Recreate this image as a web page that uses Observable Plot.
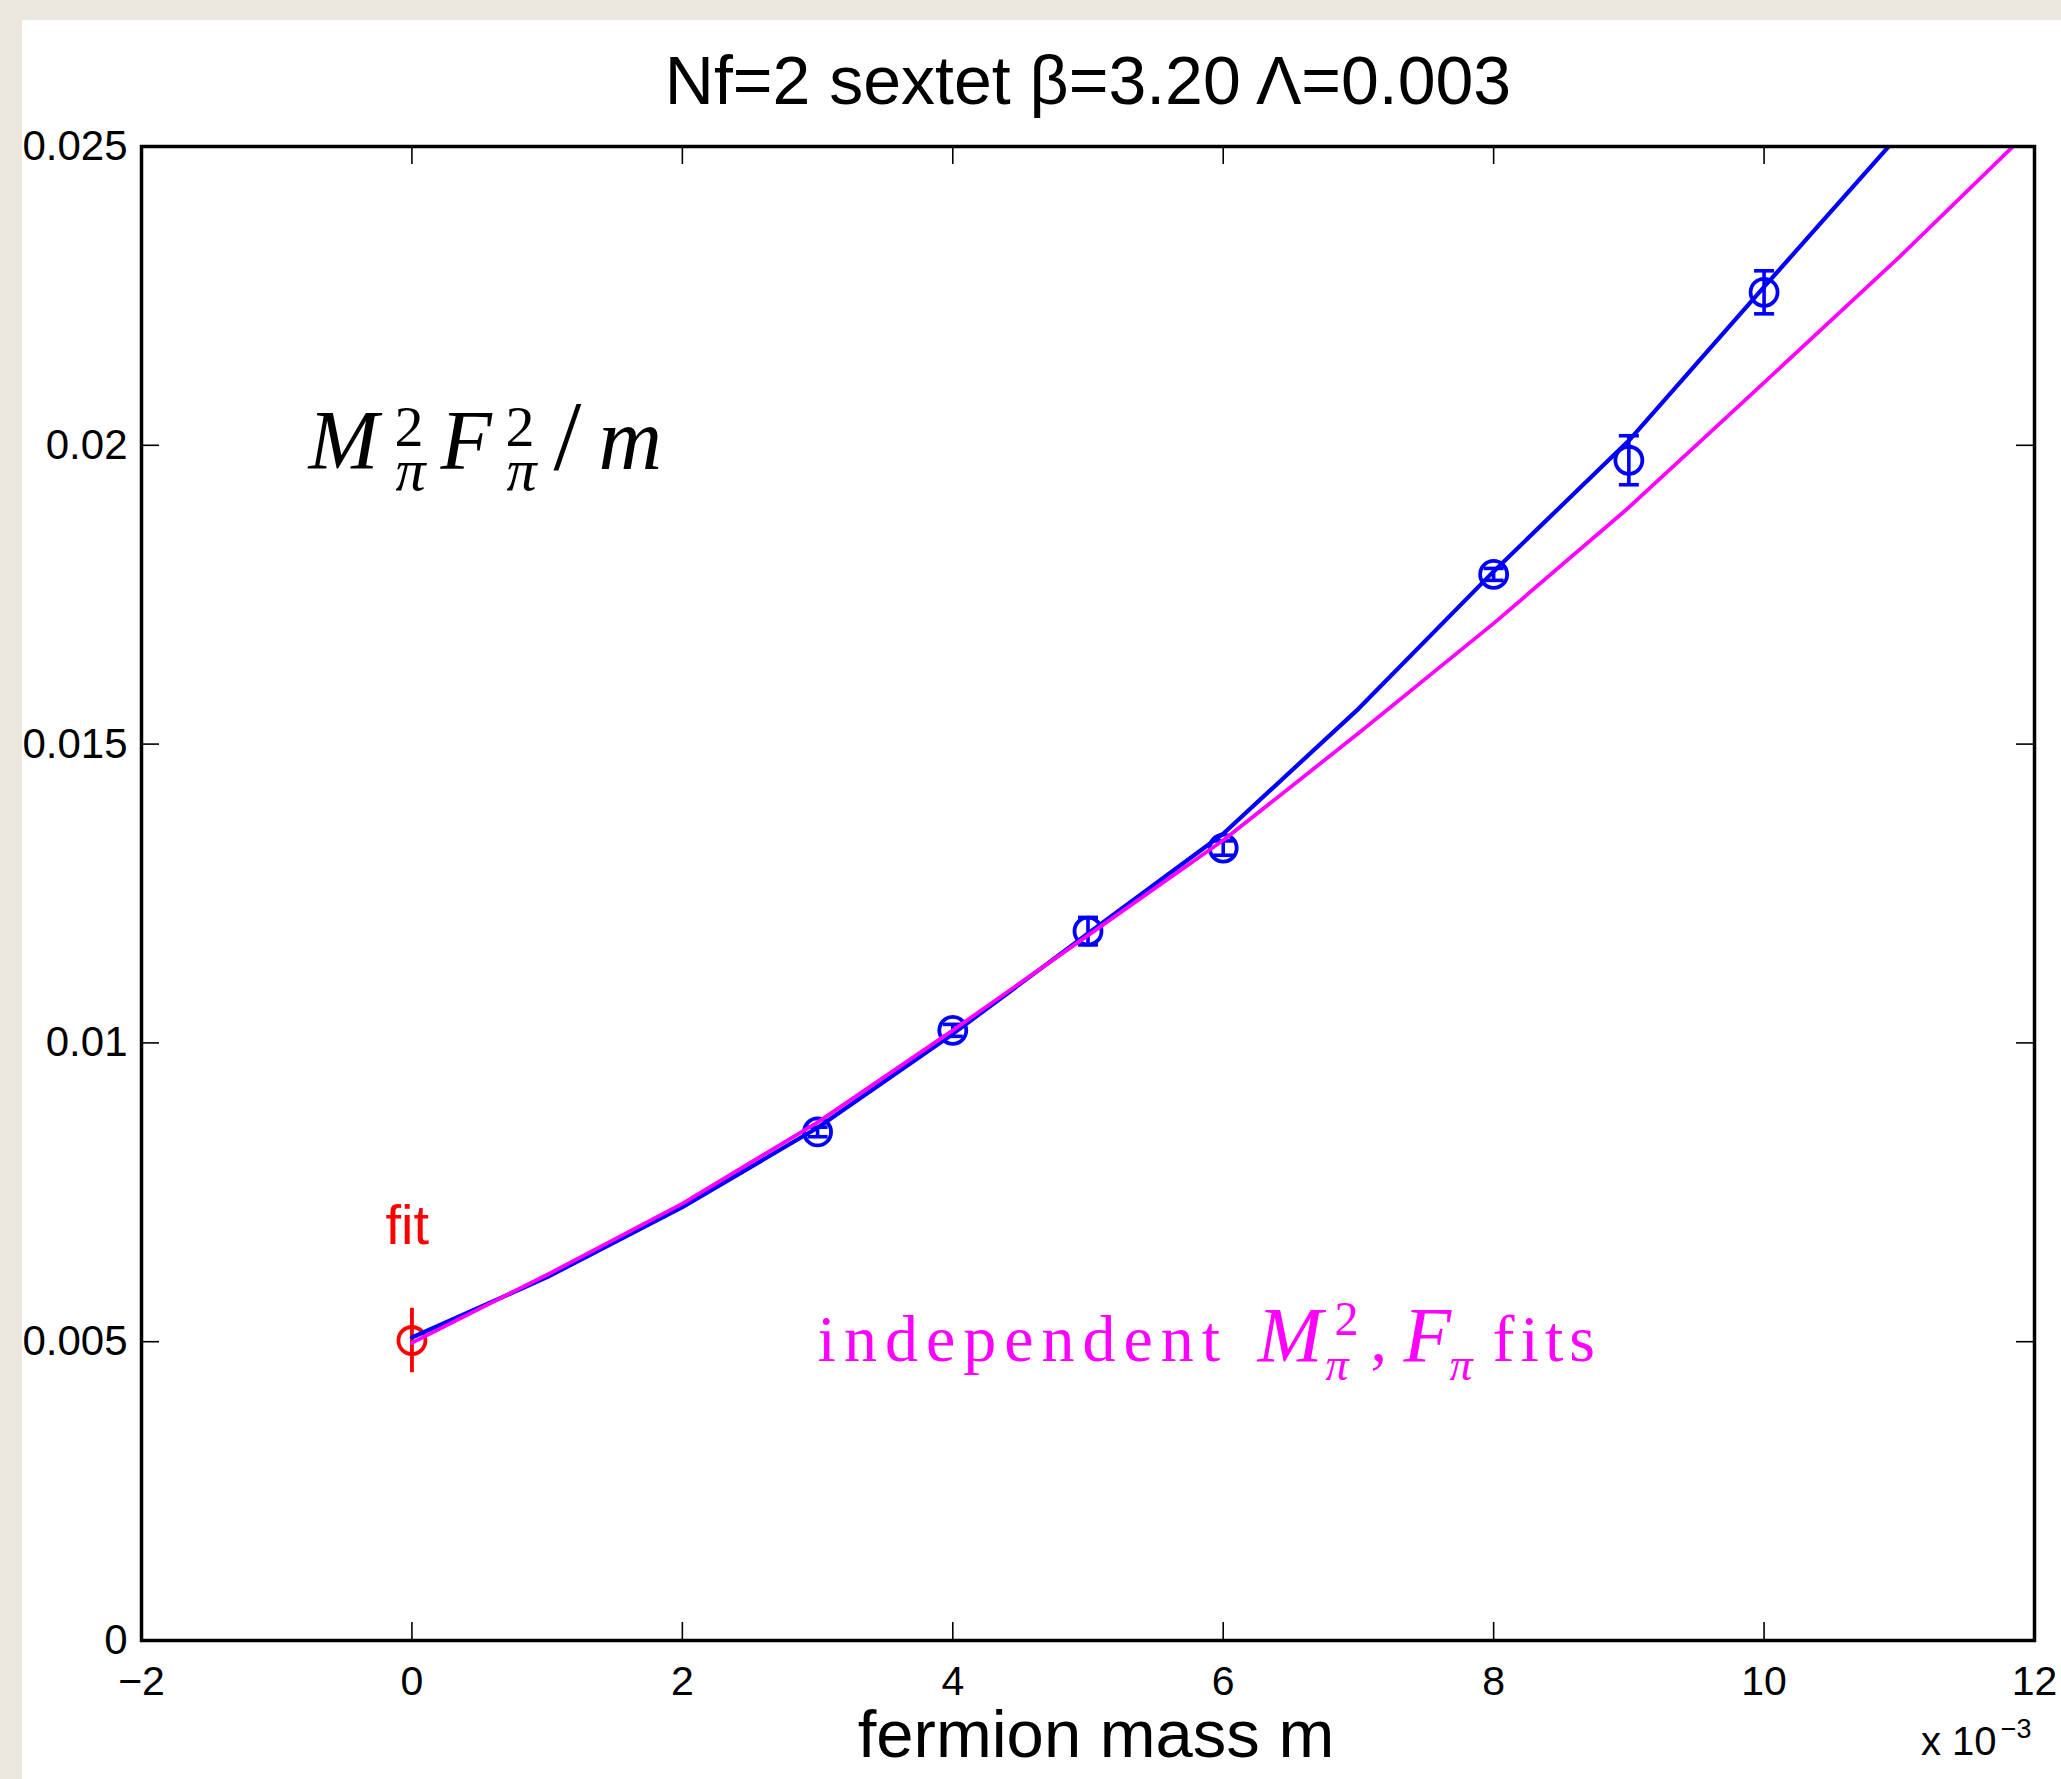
<!DOCTYPE html>
<html>
<head>
<meta charset="utf-8">
<script src="https://cdn.jsdelivr.net/npm/d3@7"></script>
<script src="https://cdn.jsdelivr.net/npm/@observablehq/plot@0.6"></script>
<style>
  html, body { margin: 0; padding: 0; background: #ebe7df; overflow: hidden; width: 2061px; height: 1779px; }
  #chart { position: absolute; left: 22px; top: 20px; }
</style>
</head>
<body>
<div id="chart"></div>
<script>
// ---------------- data ----------------
const titleText = "Nf=2 sextet β=3.20 Λ=0.003";
const xLabelText = "fermion mass m";
const xExponentBase = "x 10";
const xExponentPower = "−3";

const xTicks = [-2, 0, 2, 4, 6, 8, 10, 12];
const xTickLabels = ["−2", "0", "2", "4", "6", "8", "10", "12"];
const yTicks = [0, 0.005, 0.01, 0.015, 0.02, 0.025];
const yTickLabels = ["0", "0.005", "0.01", "0.015", "0.02", "0.025"];

// measured points (fermion mass in units of 1e-3)
const dataMass = [3, 4, 5, 6, 8, 9, 10];
const dataValue = [0.00851, 0.01021, 0.01187, 0.01326, 0.01784, 0.01975, 0.02256];
const dataError = [0.00008, 0.0001, 0.00023, 0.00012, 0.0001, 0.00041, 0.00036];

// chiral fit extrapolation
const fitMass = [0];
const fitValue = [0.00502];
const fitError = [0.00054];

// joint fit curve (blue)
const jointMass = [0, 1, 2, 3, 4, 5, 6, 7, 8, 9, 10, 11];
const jointValue = [0.00507, 0.00608, 0.00725, 0.00858, 0.01015, 0.01183, 0.01350, 0.01559, 0.01789, 0.02008, 0.02265, 0.02520];

// independent fits curve (magenta)
const indepMass = [0, 1, 2, 3, 4, 5, 6, 7, 8, 9, 10, 11, 12];
const indepValue = [0.00498, 0.00612, 0.00731, 0.00867, 0.01021, 0.01180, 0.01339, 0.01518, 0.01702, 0.01896, 0.02105, 0.02315, 0.02535];

// annotations
const fitLabel = "fit";
const fitLabelMass = [-0.195];
const fitLabelValue = [0.00664];

const quantityLabel = "MπFπ/m";
const quantityLabelMass = [-0.765];
const quantityLabelValue = [0.0196];

const indepLabel = "independent Mπ, Fπ fits";
const indepLabelMass = [3.0];
const indepLabelValue = [0.00467];

// ---------------- styling ----------------
const BLUE = "#0000ff", MAGENTA = "#ff00ff", RED = "#ff0000";
const SANS = "'Liberation Sans', Arial, Helvetica, sans-serif";
const SERIF = "'Liberation Serif', 'Times New Roman', serif";
const W = 2039, H = 1759;
const mL = 119, mR = 27, mT = 126, mB = 139;
const plotW = W - mL - mR, plotH = H - mT - mB;
const TICK = 18;

const points = dataMass.map((m, i) => ({m, v: dataValue[i], e: dataError[i]}));
const fitPts = fitMass.map((m, i) => ({m, v: fitValue[i], e: fitError[i]}));
const joint = jointMass.map((m, i) => ({m, v: jointValue[i]}));
const indep = indepMass.map((m, i) => ({m, v: indepValue[i]}));

const capSymbol = {
  draw(ctx, size) {
    const w = Math.sqrt(size / Math.PI);
    ctx.moveTo(-w, 0);
    ctx.lineTo(w, 0);
  }
};

const chart = Plot.plot({
  width: W,
  height: H,
  marginLeft: mL,
  marginRight: mR,
  marginTop: mT,
  marginBottom: mB,
  style: {background: "white", fontFamily: SANS, overflow: "visible"},
  x: {domain: [-2, 12], axis: null},
  y: {domain: [0, 0.025], axis: null},
  marks: [
    // inward ticks on all four sides
    Plot.tickX(xTicks, {x: d => d, insetTop: plotH - TICK, stroke: "black", strokeWidth: 1.6}),
    Plot.tickX(xTicks, {x: d => d, insetBottom: plotH - TICK, stroke: "black", strokeWidth: 1.6}),
    Plot.tickY(yTicks, {y: d => d, insetRight: plotW - TICK, stroke: "black", strokeWidth: 1.6}),
    Plot.tickY(yTicks, {y: d => d, insetLeft: plotW - TICK, stroke: "black", strokeWidth: 1.6}),
    // tick labels
    Plot.text(xTicks, {x: d => d, text: (d, i) => xTickLabels[i], frameAnchor: "bottom", lineAnchor: "top", dy: 25, fontSize: 41, fill: "black"}),
    Plot.text(yTicks, {y: d => d, text: (d, i) => yTickLabels[i], frameAnchor: "left", textAnchor: "end", dx: -14, fontSize: 42, fill: "black"}),
    // title, x label, exponent
    Plot.text([titleText], {text: d => d, frameAnchor: "top", lineAnchor: "bottom", dy: -43, fontSize: 68, fill: "black"}),
    Plot.text([xLabelText], {text: d => d, frameAnchor: "bottom", lineAnchor: "bottom", dy: 116, dx: 8, fontSize: 67, fill: "black"}),
    Plot.text([xExponentBase], {text: d => d, frameAnchor: "bottom-right", textAnchor: "end", lineAnchor: "bottom", dx: -38, dy: 114, fontSize: 40, fill: "black"}),
    Plot.text([xExponentPower], {text: d => d, frameAnchor: "bottom-right", textAnchor: "end", lineAnchor: "bottom", dx: -3, dy: 97, fontSize: 27, fill: "black"}),
    // blue data: error bars, caps, circles
    Plot.ruleX(points, {x: "m", y1: d => d.v - d.e, y2: d => d.v + d.e, stroke: BLUE, strokeWidth: 3.6}),
    Plot.dot(points, {x: "m", y: d => d.v + d.e, symbol: capSymbol, r: 10, stroke: BLUE, strokeWidth: 3.6}),
    Plot.dot(points, {x: "m", y: d => d.v - d.e, symbol: capSymbol, r: 10, stroke: BLUE, strokeWidth: 3.6}),
    Plot.dot(points, {x: "m", y: "v", r: 13.5, stroke: BLUE, strokeWidth: 3.8}),
    // red fit point
    Plot.ruleX(fitPts, {x: "m", y1: d => d.v - d.e, y2: d => d.v + d.e, stroke: RED, strokeWidth: 3.8}),
    Plot.dot(fitPts, {x: "m", y: "v", r: 13.5, stroke: RED, strokeWidth: 3.8}),
    // curves
    Plot.line(joint, {x: "m", y: "v", stroke: BLUE, strokeWidth: 4.2, clip: true}),
    Plot.line(indep, {x: "m", y: "v", stroke: MAGENTA, strokeWidth: 3.8, clip: true}),
    // annotations
    Plot.text([fitLabel], {x: () => fitLabelMass[0], y: () => fitLabelValue[0], text: d => d, textAnchor: "start", lineAnchor: "bottom", fontSize: 56, fill: RED}),
    Plot.text([quantityLabel], {x: () => quantityLabelMass[0], y: () => quantityLabelValue[0], text: d => d, textAnchor: "start", lineAnchor: "bottom", fontSize: 84, fontFamily: SERIF, fill: "black"}),
    Plot.text([indepLabel], {x: () => indepLabelMass[0], y: () => indepLabelValue[0], text: d => d, textAnchor: "start", lineAnchor: "bottom", fontSize: 66, fontFamily: SERIF, fill: MAGENTA}),
    // frame
    Plot.frame({stroke: "black", strokeWidth: 3.5})
  ]
});

document.getElementById("chart").appendChild(chart);

// typeset math-like labels: each piece placed at an offset (px) from the label start
function mathify(placeholder, segs) {
  const el = d3.select(chart).selectAll("text").filter(function () { return this.textContent === placeholder; });
  if (el.empty()) return;
  const sel = d3.select(el.node());
  sel.text(null);
  let pen = 0, cur = 0;
  for (const s of segs) {
    const ts = sel.append("tspan").text(s.t);
    if (s.it) ts.attr("font-style", "italic");
    if (s.size) ts.attr("font-size", s.size);
    if (s.ls) ts.attr("letter-spacing", s.ls);
    const shift = s.shift || 0;
    if (shift !== cur) ts.attr("dy", shift - cur);
    cur = shift;
    const start = s.at != null ? s.at : pen;
    if (start !== pen) ts.attr("dx", start - pen);
    pen = start + ts.node().getComputedTextLength();
  }
}

mathify(quantityLabel, [
  {t: "M", it: true, at: 0},
  {t: "π", it: true, size: 60, shift: 21, at: 87},
  {t: "2", size: 58, shift: -23, at: 86},
  {t: "F", it: true, shift: 0, at: 132},
  {t: "π", it: true, size: 60, shift: 21, at: 198},
  {t: "2", size: 58, shift: -23, at: 197},
  {t: "/", size: 100, shift: 0, at: 245},
  {t: "m", it: true, size: 88, at: 290}
]);

mathify(indepLabel, [
  {t: "independent", ls: 8, at: 0},
  {t: "M", it: true, size: 78, at: 440},
  {t: "π", it: true, size: 46, shift: 19, at: 508},
  {t: "2", size: 48, shift: -26, at: 517},
  {t: ",", shift: 0, at: 553},
  {t: "F", it: true, size: 78, at: 586},
  {t: "π", it: true, size: 46, shift: 19, at: 632},
  {t: "fits", ls: 6, shift: 0, at: 675}
]);
</script>
</body>
</html>
